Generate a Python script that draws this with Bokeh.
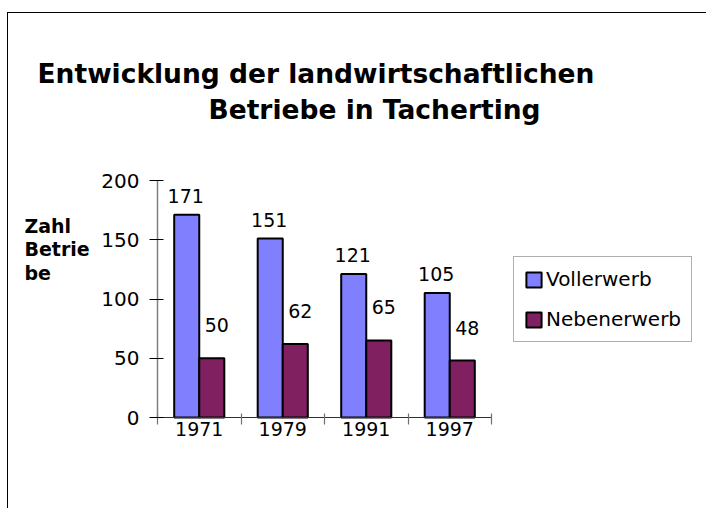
from bokeh.plotting import figure
from bokeh.models import (Range1d, FixedTicker, LinearAxis, Label, LabelSet,
                          Legend, LegendItem, ColumnDataSource)
from bokeh.transform import dodge
from bokeh.core.properties import value
from bokeh.embed import file_html
from bokeh.resources import INLINE

# ---- data ----
years = ["1971", "1979", "1991", "1997"]
vollerwerb = [171, 151, 121, 105]
nebenerwerb = [50, 62, 65, 48]
y_ticks = [0, 50, 100, 150, 200]
series_names = ["Vollerwerb", "Nebenerwerb"]
title_lines = ["Entwicklung der landwirtschaftlichen", "Betriebe in Tacherting"]
y_label_lines = ["Zahl", "Betrie", "be"]

# ---- styling / layout (pixels on the canvas) ----
FONT = "DejaVu Sans"
BLUE = "#8080FF"
MAROON = "#802060"
W, H = 699, 496
AX_LEFT, AX_RIGHT = 149, 483      # where the category axis starts / ends
AX_TOP, AX_BOTTOM = 167, 404      # where the value axis ends (200) / starts (0)

n = len(years)
v_lo, v_hi = y_ticks[0], y_ticks[-1]
px_x = (AX_RIGHT - AX_LEFT) / n
px_y = (AX_BOTTOM - AX_TOP) / (v_hi - v_lo)
x_range = Range1d(-AX_LEFT / px_x, n + (W - AX_RIGHT) / px_x)
y_range = Range1d(v_lo - (H - AX_BOTTOM) / px_y, v_hi + AX_TOP / px_y)

slots = [i + 0.5 for i in range(n)]
src = ColumnDataSource(dict(
    x=slots, year=years, voll=vollerwerb, neben=nebenerwerb,
    voll_txt=[str(v) for v in vollerwerb],
    neben_txt=[str(v) for v in nebenerwerb],
))

p = figure(width=W, height=H, output_backend="svg", toolbar_location=None,
           x_range=x_range, y_range=y_range,
           x_axis_type=None, y_axis_type=None, title=None, min_border=0)
p.outline_line_color = None
p.background_fill_color = "white"
p.border_fill_color = "white"
p.styles = {"border-left": "1px solid #000000", "border-top": "1px solid #000000",
            "margin-top": "12px", "margin-left": "7px"}

# value axis, drawn at the start of the category axis
yaxis = LinearAxis(ticker=FixedTicker(ticks=y_ticks, minor_ticks=[]),
                   fixed_location=0, bounds=(v_lo, v_hi),
                   axis_line_color="#808080", axis_line_width=1.5,
                   major_tick_line_color="black", major_tick_in=6, major_tick_out=8,
                   minor_tick_line_color=None,
                   major_label_standoff=10, major_label_text_font=FONT,
                   major_label_text_font_size="20px", major_label_text_color="black")
p.add_layout(yaxis, "left")

# category axis: labels at slot centres, tick marks at slot boundaries
xaxis = LinearAxis(ticker=FixedTicker(ticks=slots, minor_ticks=list(range(n + 1))),
                   fixed_location=v_lo, bounds=(0, n),
                   major_label_overrides={s: y for s, y in zip(slots, years)},
                   axis_line_color="#303030", axis_line_width=1.2,
                   major_tick_line_color=None, major_tick_in=0, major_tick_out=0,
                   minor_tick_line_color="#707070", minor_tick_in=4, minor_tick_out=7,
                   minor_tick_line_width=1.2,
                   major_label_standoff=-3, major_label_text_font=FONT,
                   major_label_text_font_size="19px", major_label_text_color="black")
p.add_layout(xaxis, "below")

# bars
r1 = p.vbar(x=dodge("x", -0.15, range=p.x_range), top="voll", bottom=v_lo, width=0.3,
            source=src, fill_color=BLUE, line_color="black", line_width=2)
r2 = p.vbar(x=dodge("x", 0.15, range=p.x_range), top="neben", bottom=v_lo, width=0.3,
            source=src, fill_color=MAROON, line_color="black", line_width=2)

# value labels
p.add_layout(LabelSet(x=dodge("x", -0.15, range=p.x_range), y="voll", text="voll_txt",
                      source=src, x_offset=-1, y_offset=19,
                      text_align="center", text_baseline="middle",
                      text_font=value(FONT), text_font_size=value("19px"),
                      text_color="black"))
p.add_layout(LabelSet(x=dodge("x", 0.15, range=p.x_range), y="neben", text="neben_txt",
                      source=src, x_offset=5, y_offset=33,
                      text_align="center", text_baseline="middle",
                      text_font=value(FONT), text_font_size=value("19px"),
                      text_color="black"))

# texts placed in pixels from the top-left corner of the canvas
def canvas_label(text, px, py, size, bold):
    return Label(x=x_range.start, y=y_range.end, x_offset=px, y_offset=-py, text=text,
                 text_font=FONT, text_font_style="bold" if bold else "normal",
                 text_font_size=size, text_baseline="alphabetic", text_align="left",
                 text_color="black")

p.add_layout(canvas_label(title_lines[0], 29, 60, "26.5px", True))
p.add_layout(canvas_label(title_lines[1], 200, 96, "26.5px", True))
for line, py in zip(y_label_lines, [212, 235.5, 259]):
    p.add_layout(canvas_label(line, 16, py, "19px", True))

legend = Legend(items=[LegendItem(label=series_names[0], renderers=[r1]),
                       LegendItem(label=series_names[1], renderers=[r2])],
                location=(505, H - 329), orientation="vertical",
                border_line_color="#606060", border_line_width=1,
                background_fill_color="white", background_fill_alpha=1.0,
                padding=10, spacing=16, glyph_width=19, glyph_height=19,
                label_standoff=3, label_height=23, margin=0,
                label_text_font=FONT, label_text_font_size="20px",
                label_text_color="black")
p.add_layout(legend, "center")

open("out.html", "w").write(file_html(p, INLINE))
